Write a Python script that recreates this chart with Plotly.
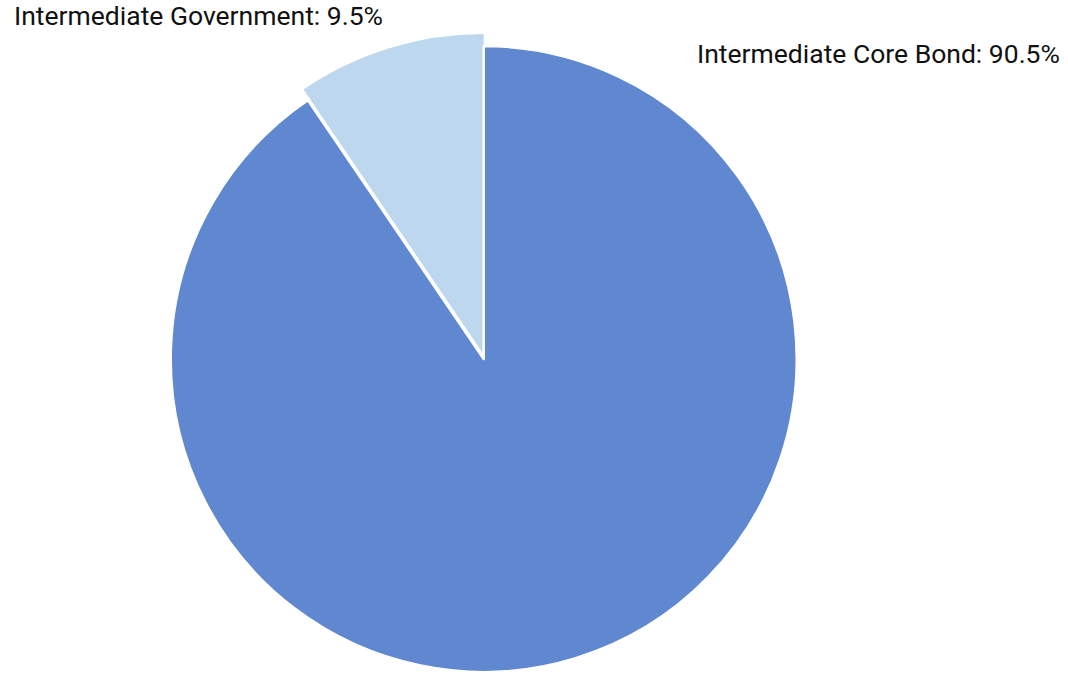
import plotly.graph_objects as go

# Data
categories = ["Intermediate Core Bond", "Intermediate Government"]
values = [90.5, 9.5]
colors = ["#6088D1", "#BDD7EE"]

W, H = 1068, 675
cx, cy, r = 483.7, 359.0, 313.0   # pie centre / radius in px
r_big = 320.5                        # radius of the emphasised small slice
shift = 4.5                          # its centre offset so it stays in frame


def dom(cx_px, cy_px, r_px):
    return dict(x=[(cx_px - r_px) / W, (cx_px + r_px) / W],
                y=[(H - cy_px - r_px) / H, (H - cy_px + r_px) / H])


fig = go.Figure()

# enlarged (emphasised) small slice, drawn underneath
fig.add_trace(go.Pie(
    labels=categories, values=values, sort=False, direction="clockwise",
    rotation=0, textinfo="none", hoverinfo="skip", showlegend=False,
    marker=dict(colors=["rgba(0,0,0,0)", colors[1]],
                line=dict(color="rgba(0,0,0,0)", width=0)),
    domain=dom(cx, cy - shift, r_big),
))

# main pie (large slice drawn, small slice shown by the trace beneath)
fig.add_trace(go.Pie(
    labels=categories, values=values, sort=False, direction="clockwise",
    rotation=0, textinfo="none", showlegend=False,
    marker=dict(colors=[colors[0], "rgba(0,0,0,0)"],
                line=dict(color=["white", "rgba(0,0,0,0)"], width=[2.5, 0])),
    domain=dom(cx, cy, r),
))

label_font = dict(family="Roboto", size=26.5, color="#111111")
fig.add_annotation(x=12 / W, y=(H - 15) / H, xref="paper", yref="paper",
                   xanchor="left", yanchor="middle", showarrow=False,
                   text=f"{categories[1]}: {values[1]}%", font=label_font)
fig.add_annotation(x=1062 / W, y=(H - 53) / H, xref="paper", yref="paper",
                   xanchor="right", yanchor="middle", showarrow=False,
                   text=f"{categories[0]}: {values[0]}%", font=label_font)

fig.update_layout(width=W, height=H, margin=dict(l=0, r=0, t=0, b=0),
                  paper_bgcolor="white", plot_bgcolor="white")

fig.write_html("out.html", config={"displayModeBar": False},
               post_script="document.body.style.margin='0';document.body.style.overflow='hidden';")
